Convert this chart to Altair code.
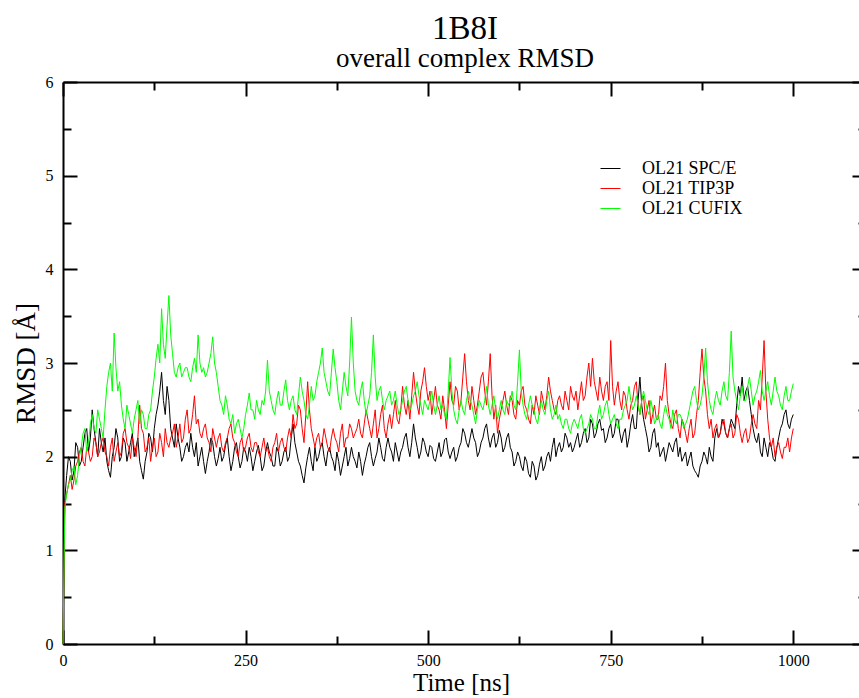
import altair as alt
import pandas as pd

# ---------------- data (2.5 ns steps) ----------------
time_ns = [i * 2.5 for i in range(401)]

spce = [
    0.0, 1.55, 1.8, 2.0, 1.95, 1.75, 1.85, 2.15, 2.1, 1.9, 1.95, 2.1, 2.25, 2.3, 2.05, 2.2, 2.5, 2.3, 2.15, 2.0,
    2.3, 2.15, 2.05, 2.2, 1.95, 1.85, 1.78, 2.0, 2.1, 2.3, 2.2, 1.95, 2.0, 2.2, 2.15, 1.95, 2.05, 2.15, 2.25, 2.0,
    2.1, 2.2, 1.95, 1.85, 1.76, 1.95, 2.05, 2.25, 2.2, 2.05, 2.3, 2.45, 2.55, 2.7, 2.9, 2.6, 2.45, 2.75, 2.6, 2.3,
    2.2, 2.1, 2.35, 2.2, 2.1, 1.95, 2.0, 2.1, 2.15, 2.05, 2.25, 2.1, 2.0, 2.15, 1.9, 2.0, 2.1, 1.95, 1.82, 1.95,
    2.05, 2.2, 2.15, 2.0, 1.9, 1.98, 2.1, 1.95, 2.0, 2.12, 2.2, 2.0, 1.85, 1.95, 2.1, 2.15, 2.0, 1.88, 1.95, 2.1,
    2.05, 1.95, 2.1, 2.0, 1.85, 1.95, 2.05, 2.12, 2.0, 1.85, 1.9, 2.05, 2.15, 2.05, 2.0, 1.9, 1.9, 2.1, 2.05, 1.9,
    1.95, 2.05, 2.1, 1.95, 2.0, 2.2, 2.35, 2.15, 2.05, 1.95, 1.9, 1.8, 1.72, 1.88, 2.0, 2.1, 1.95, 1.85, 2.1, 1.95,
    2.0, 2.1, 2.15, 2.0, 1.9, 2.05, 2.1, 2.0, 1.95, 1.85, 2.05, 1.95, 1.8, 1.9, 2.0, 2.1, 1.9, 1.98, 2.1, 2.0,
    1.95, 1.88, 2.05, 1.95, 1.8, 1.92, 2.0, 2.1, 2.15, 2.0, 1.9, 1.98, 2.05, 2.2, 2.1, 1.98, 1.95, 2.1, 2.2, 2.1,
    2.05, 1.95, 2.15, 2.05, 1.95, 2.05, 2.1, 2.2, 2.25, 2.1, 2.0, 2.15, 2.35, 2.2, 2.1, 1.98, 2.05, 2.2, 2.15, 2.05,
    2.0, 2.12, 2.1, 1.98, 1.95, 2.05, 2.15, 2.0, 2.05, 2.18, 2.2, 2.05, 1.98, 2.05, 2.1, 1.95, 2.0, 2.1, 2.15, 2.3,
    2.25, 2.15, 2.1, 2.2, 2.3, 2.2, 2.15, 2.0, 2.05, 2.15, 2.2, 2.3, 2.35, 2.2, 2.1, 2.2, 2.25, 2.1, 2.15, 2.28,
    2.2, 2.05, 2.1, 2.2, 2.25, 2.1, 2.05, 1.9, 1.95, 2.05, 2.0, 1.9, 1.85, 2.0, 1.95, 1.82, 1.78, 1.95, 1.9, 1.75,
    1.8, 1.92, 2.0, 1.85, 1.9, 2.0, 2.05, 1.95, 2.1, 2.2, 2.0, 2.1, 2.15, 2.05, 2.1, 2.25, 2.2, 2.1, 2.15, 2.05,
    2.1, 2.18, 2.25, 2.1, 2.15, 2.25, 2.3, 2.15, 2.2, 2.4, 2.35, 2.2, 2.25, 2.35, 2.4, 2.28, 2.3, 2.15, 2.2, 2.3,
    2.35, 2.2, 2.25, 2.4, 2.4, 2.25, 2.15, 2.25, 2.3, 2.1, 2.2, 2.35, 2.45, 2.3, 2.3, 2.6, 2.85, 2.55, 2.4, 2.3,
    2.2, 2.05, 2.1, 2.25, 2.3, 2.1, 2.15, 2.0, 2.05, 2.1, 1.95, 2.05, 2.15, 2.1, 2.05, 2.15, 2.2, 2.0, 2.1, 1.95,
    2.0, 2.05, 1.9, 1.98, 2.05, 1.9, 1.85, 1.82, 1.78, 1.9, 1.95, 2.05, 2.0, 1.92, 2.1, 2.0, 1.95, 2.2, 2.3, 2.2,
    2.25, 2.4, 2.35, 2.25, 2.2, 2.3, 2.4, 2.35, 2.3, 2.55, 2.75, 2.65, 2.85, 2.6, 2.7, 2.75, 2.6, 2.45, 2.3, 2.2,
    2.15, 2.25, 2.05, 2.0, 2.2, 2.1, 2.0, 2.15, 2.1, 1.98, 1.95, 2.1, 2.2, 2.3, 2.35, 2.45, 2.5, 2.35, 2.3, 2.4,
    2.45,
]

tip3p = [
    0.0, 1.5, 1.6, 1.7, 1.8, 1.65, 1.75, 1.9, 1.95, 2.05, 2.1, 1.95, 1.9, 2.1, 2.05, 1.95, 2.0, 2.2, 2.15, 2.0,
    2.05, 2.15, 2.2, 2.05, 2.0, 1.9, 2.1, 2.2, 1.95, 2.05, 2.15, 2.0, 2.05, 2.25, 2.3, 2.15, 2.1, 1.98, 2.2, 2.1,
    2.0, 2.2, 2.55, 2.3, 2.25, 2.05, 2.1, 2.2, 1.95, 2.1, 2.2, 2.0, 2.05, 2.25, 2.15, 2.0, 2.3, 2.15, 2.1, 2.2,
    2.25, 2.35, 2.1, 2.2, 2.35, 2.15, 2.2, 2.4, 2.5, 2.25, 2.3, 2.45, 2.65, 2.35, 2.4, 2.25, 2.2, 2.3, 2.35, 2.2,
    2.15, 2.05, 2.3, 2.2, 2.1, 2.2, 2.25, 2.1, 2.05, 2.15, 2.2, 2.3, 2.35, 2.2, 2.15, 2.05, 2.0, 2.15, 2.2, 2.05,
    2.1, 2.2, 2.25, 2.1, 2.05, 2.15, 2.15, 2.05, 2.0, 2.1, 2.2, 2.05, 2.1, 2.0, 1.95, 2.1, 2.15, 2.25, 2.05, 2.15,
    2.2, 2.1, 2.05, 2.2, 2.3, 2.2, 2.45, 2.3, 2.35, 2.55, 2.5, 2.3, 2.15, 2.45, 2.8, 2.5, 2.3, 2.2, 2.1, 2.2,
    2.25, 2.1, 2.15, 2.3, 2.2, 2.1, 2.05, 2.2, 2.3, 2.2, 2.15, 2.05, 2.25, 2.35, 2.1, 2.2, 2.2, 2.35, 2.3, 2.2,
    2.25, 2.3, 2.4, 2.25, 2.2, 2.35, 2.5, 2.4, 2.3, 2.2, 2.35, 2.5, 2.2, 2.3, 2.45, 2.55, 2.3, 2.2, 2.35, 2.45,
    2.3, 2.45, 2.6, 2.4, 2.35, 2.5, 2.75, 2.55, 2.45, 2.6, 2.4, 2.65, 2.9, 2.7, 2.55, 2.45, 2.7, 2.8, 2.95, 2.75,
    2.6, 2.7, 2.45, 2.6, 2.75, 2.55, 2.5, 2.4, 2.65, 2.5, 2.3, 2.55, 2.8, 2.6, 2.55, 2.75, 2.7, 2.5, 2.6, 2.85,
    3.1, 2.8, 2.6, 2.5, 2.75, 2.6, 2.45, 2.55, 2.7, 2.85, 2.9, 2.7, 2.55, 2.8, 3.1, 2.65, 2.4, 2.55, 2.25, 2.4,
    2.5, 2.6, 2.7, 2.55, 2.45, 2.65, 2.6, 2.45, 2.4, 2.6, 2.55, 2.7, 2.75, 2.55, 2.5, 2.4, 2.35, 2.55, 2.45, 2.65,
    2.55, 2.45, 2.7, 2.6, 2.5, 2.65, 2.85, 2.7, 2.6, 2.5, 2.45, 2.6, 2.65, 2.55, 2.5, 2.7, 2.6, 2.5, 2.75, 2.65,
    2.6, 2.7, 2.5, 2.65, 2.8, 2.6, 2.65, 2.85, 3.0, 2.75, 3.05, 2.8, 2.7, 2.6, 2.85, 2.7, 2.6, 2.75, 2.8, 2.6,
    3.24, 2.75, 2.55, 2.7, 2.8, 2.6, 2.5, 2.7, 2.65, 2.5, 2.4, 2.55, 2.6, 2.75, 2.8, 2.55, 2.45, 2.6, 2.65, 2.4,
    2.5, 2.6, 2.35, 2.45, 2.55, 2.4, 2.4, 2.65, 2.6, 2.75, 3.0, 2.6, 2.45, 2.35, 2.3, 2.45, 2.5, 2.3, 2.2, 2.4,
    2.35, 2.25, 2.15, 2.3, 2.4, 2.2, 2.25, 2.45, 2.6, 2.9, 3.15, 2.85, 2.7, 2.45, 2.3, 2.4, 2.2, 2.3, 2.35, 2.2,
    2.25, 2.35, 2.4, 2.25, 2.2, 2.3, 2.35, 2.2, 2.25, 2.45, 2.4, 2.25, 2.15, 2.25, 2.3, 2.15, 2.2, 2.35, 2.45, 2.35,
    2.3, 2.6, 2.5, 2.85, 3.24, 2.7, 2.4, 2.2, 2.1, 2.2, 2.0, 2.1, 2.15, 2.05, 1.98, 2.1, 2.1, 2.2, 2.05, 2.2,
    2.3,
]

cufix = [
    0.0, 1.45, 1.6, 1.7, 1.75, 1.85, 1.9, 1.7, 1.8, 2.0, 2.1, 2.25, 2.3, 2.05, 2.15, 2.35, 2.45, 2.3, 2.25, 2.5,
    2.4, 2.3, 2.2, 2.5, 2.75, 2.9, 3.0, 2.7, 3.32, 2.95, 2.7, 2.8, 2.55, 2.4, 2.3, 2.55, 2.45, 2.35, 2.25, 2.4,
    2.5, 2.6, 2.35, 2.5, 2.45, 2.3, 2.3, 2.45, 2.5, 2.7, 2.85, 3.05, 3.2, 3.0, 3.58, 3.2, 3.05, 3.4, 3.72, 3.3,
    3.1, 2.9, 2.85, 2.95, 3.0, 2.85, 2.9, 2.95, 2.95, 2.85, 2.8, 2.95, 3.05, 2.9, 3.3, 3.0, 2.9, 2.95, 2.85, 2.9,
    3.0, 3.1, 3.28, 3.0, 2.9, 2.75, 2.6, 2.55, 2.45, 2.65, 2.55, 2.4, 2.35, 2.45, 2.25, 2.35, 2.4, 2.3, 2.2, 2.3,
    2.45, 2.55, 2.68, 2.5, 2.5, 2.4, 2.6, 2.5, 2.45, 2.6, 2.55, 2.7, 3.03, 2.7, 2.6, 2.5, 2.45, 2.6, 2.7, 2.55,
    2.55, 2.7, 2.82, 2.6, 2.5, 2.6, 2.65, 2.5, 2.45, 2.65, 2.85, 2.7, 2.6, 2.45, 2.4, 2.55, 2.75, 2.6, 2.65, 2.8,
    2.9, 3.0, 3.16, 2.9, 2.8, 2.7, 2.65, 2.9, 3.15, 2.95, 2.8, 2.6, 2.5, 2.7, 2.9, 2.75, 2.65, 3.0, 3.49, 3.0,
    2.7, 2.6, 2.55, 2.7, 2.8, 2.6, 2.45, 2.55, 2.65, 2.9, 3.3, 2.85, 2.6, 2.7, 2.75, 2.6, 2.5, 2.6, 2.65, 2.7,
    2.55, 2.6, 2.7, 2.55, 2.45, 2.5, 2.6, 2.7, 2.75, 2.6, 2.5, 2.55, 2.65, 2.7, 2.8, 2.65, 2.55, 2.45, 2.6, 2.55,
    2.5, 2.6, 2.7, 2.55, 2.45, 2.55, 2.65, 2.5, 2.55, 2.45, 2.4, 2.7, 3.06, 2.7, 2.5, 2.4, 2.35, 2.5, 2.6, 2.5,
    2.45, 2.6, 2.7, 2.6, 2.55, 2.45, 2.35, 2.5, 2.6, 2.55, 2.5, 2.6, 2.75, 2.55, 2.45, 2.55, 2.65, 2.5, 2.4, 2.5,
    2.6, 2.5, 2.45, 2.6, 2.55, 2.6, 2.7, 2.55, 2.5, 2.8, 3.14, 2.7, 2.55, 2.45, 2.4, 2.55, 2.65, 2.55, 2.5, 2.4,
    2.35, 2.5, 2.6, 2.5, 2.45, 2.6, 2.7, 2.5, 2.4, 2.45, 2.55, 2.4, 2.45, 2.35, 2.3, 2.4, 2.4, 2.3, 2.25, 2.35,
    2.4, 2.35, 2.3, 2.4, 2.45, 2.3, 2.25, 2.3, 2.35, 2.45, 2.4, 2.3, 2.3, 2.45, 2.55, 2.4, 2.45, 2.55, 2.6, 2.45,
    2.35, 2.4, 2.45, 2.35, 2.3, 2.4, 2.4, 2.5, 2.55, 2.6, 2.75, 2.6, 2.5, 2.55, 2.65, 2.55, 2.45, 2.6, 2.7, 2.6,
    2.5, 2.45, 2.6, 2.5, 2.35, 2.4, 2.45, 2.35, 2.3, 2.45, 2.55, 2.45, 2.4, 2.3, 2.5, 2.4, 2.35, 2.45, 2.45, 2.4,
    2.3, 2.35, 2.4, 2.5, 2.6, 2.7, 2.75, 2.6, 2.5, 2.55, 2.65, 2.85, 3.16, 2.8, 2.6, 2.5, 2.45, 2.6, 2.7, 2.6,
    2.55, 2.7, 2.8, 2.65, 2.6, 2.9, 3.34, 2.85, 2.7, 2.6, 2.5, 2.65, 2.75, 2.6, 2.6, 2.75, 2.85, 2.7, 2.55, 2.65,
    2.7, 2.8, 2.92, 2.7, 2.6, 2.7, 2.8, 2.65, 2.55, 2.7, 2.85, 2.7, 2.65, 2.55, 2.5, 2.65, 2.75, 2.6, 2.6, 2.7,
    2.78,
]

series_names = ["OL21 SPC/E", "OL21 TIP3P", "OL21 CUFIX"]
series_colors = ["#000000", "#ff0000", "#00ff00"]

x_major = [0, 250, 500, 750, 1000]
x_minor = [125, 375, 625, 875]
y_major = [0, 1, 2, 3, 4, 5, 6]
y_minor = [0.5, 1.5, 2.5, 3.5, 4.5, 5.5]

assert len(spce) == len(tip3p) == len(cufix) == len(time_ns)

rows = []
for name, vals in zip(series_names, [spce, tip3p, cufix]):
    for t, v in zip(time_ns, vals):
        rows.append({"time": t, "rmsd": v, "series": name})
df = pd.DataFrame(rows)

# ---------------- styling ----------------
FONT = "Liberation Serif"
W, H = 796, 562
PAD = {"left": 63, "top": 82, "right": 0, "bottom": 54}

xscale = alt.Scale(domain=[0, 1090], nice=False, zero=False)
yscale = alt.Scale(domain=[0, 6], nice=False, zero=False)
cscale = alt.Scale(domain=series_names, range=series_colors)

legend = alt.Legend(
    orient="none", legendX=537, legendY=76, title=None,
    symbolType="stroke", symbolSize=400, symbolStrokeWidth=1,
    labelFont=FONT, labelFontSize=18, labelColor="black",
    labelOffset=21, rowPadding=0, padding=0, labelLimit=400,
)


def tick_axis(orient, offset, values, size, domain=False):
    return alt.Axis(
        orient=orient, offset=offset, values=values,
        domain=domain, domainColor="black", domainWidth=2,
        labels=False, ticks=True, tickSize=size, tickWidth=2,
        tickColor="black", grid=False, title=None,
    )


x_main = alt.Axis(
    orient="bottom", values=x_major, format="d",
    domain=True, domainColor="black", domainWidth=2,
    ticks=False, tickSize=0, labels=True,
    labelFont=FONT, labelFontSize=16, labelColor="black",
    labelPadding=8, labelFlush=False, labelOverlap=False, grid=False,
    title="Time [ns]", titleFont=FONT, titleFontSize=25,
    titleFontWeight="normal", titleColor="black", titlePadding=2,
)
y_main = alt.Axis(
    orient="left", values=y_major, format="d",
    domain=True, domainColor="black", domainWidth=2,
    ticks=False, tickSize=0, labels=True,
    labelFont=FONT, labelFontSize=16, labelColor="black",
    labelPadding=10, labelFlush=False, labelOverlap=False, grid=False,
    title="RMSD [Å]", titleFont=FONT, titleFontSize=27,
    titleFontWeight="normal", titleColor="black", titlePadding=5,
)

# inward ticks: axes placed on the opposite edge so ticks point inside
x_bot_major = tick_axis("top", -H, x_major, 14)
x_bot_minor = tick_axis("top", -H, x_minor, 8)
x_top_major = tick_axis("bottom", -H, x_major, 14, domain=True)
x_top_minor = tick_axis("bottom", -H, x_minor, 8)
y_left_major = tick_axis("right", -W, y_major, 14)
y_left_minor = tick_axis("right", -W, y_minor, 8)
y_right_major = tick_axis("left", -(W + 7), y_major, 14)
y_right_minor = tick_axis("left", -(W + 7), y_minor, 8)


def series_layer(name, xaxis, yaxis):
    return (
        alt.Chart(df)
        .transform_filter(alt.datum.series == name)
        .mark_line(strokeWidth=1)
        .encode(
            x=alt.X("time:Q", scale=xscale, axis=xaxis),
            y=alt.Y("rmsd:Q", scale=yscale, axis=yaxis),
            color=alt.Color("series:N", scale=cscale, legend=legend),
        )
    )


def axis_layer(xaxis, yaxis):
    return (
        alt.Chart(df)
        .transform_filter(alt.datum.series == series_names[0])
        .mark_line(strokeOpacity=0)
        .encode(
            x=alt.X("time:Q", scale=xscale, axis=xaxis),
            y=alt.Y("rmsd:Q", scale=yscale, axis=yaxis),
        )
    )


chart = (
    alt.layer(
        series_layer(series_names[0], x_main, y_main),
        series_layer(series_names[1], x_bot_major, y_left_major),
        series_layer(series_names[2], x_bot_minor, y_left_minor),
        axis_layer(x_top_major, y_right_major),
        axis_layer(x_top_minor, y_right_minor),
    )
    .resolve_axis(x="independent", y="independent")
    .properties(
        width=W, height=H,
        autosize=alt.AutoSizeParams(type="none"),
        padding=PAD,
        background="white",
        title=alt.TitleParams(
            text="1B8I", subtitle="overall complex RMSD",
            font=FONT, fontSize=33, fontWeight="normal", color="black",
            subtitleFont=FONT, subtitleFontSize=27, subtitleColor="black",
            subtitlePadding=0, anchor="middle", offset=2, dx=4,
        ),
    )
    .configure_view(strokeWidth=0)
)

chart.save("out.html", embed_options={"renderer": "svg", "actions": False})
